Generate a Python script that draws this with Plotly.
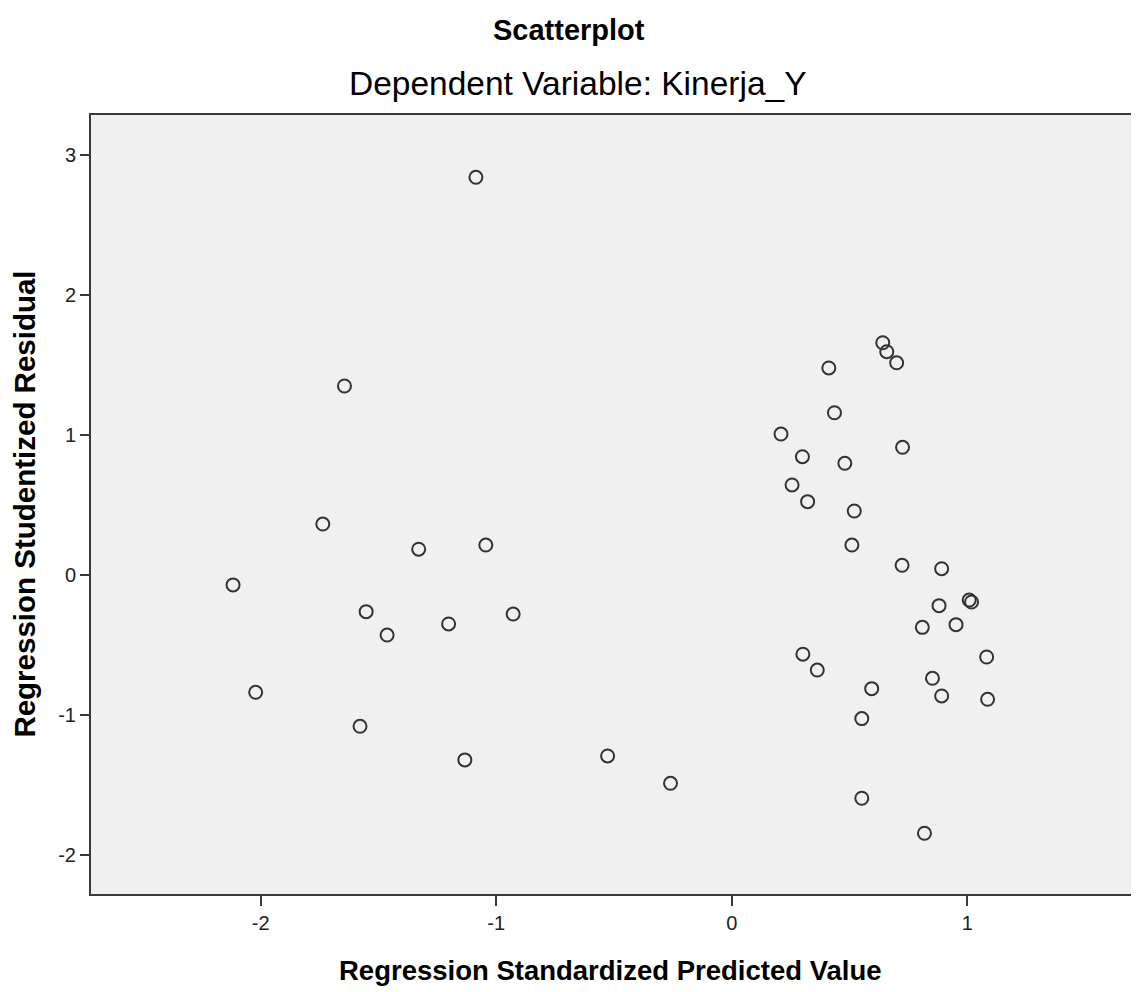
import plotly.graph_objects as go

# Regression Standardized Predicted Value (x) and Regression Studentized Residual (y)
pred_left = [-1.736, -1.329, -1.044, -2.117, -1.552, -1.463, -1.202, -0.928,
             -2.021, -1.578, -1.133, -1.086, -1.644, -0.527, -0.260]
resid_left = [0.364, 0.184, 0.214, -0.071, -0.262, -0.429, -0.350, -0.279,
              -0.838, -1.081, -1.321, 2.841, 1.350, -1.293, -1.488]

pred_right = [0.641, 0.658, 0.700, 0.412, 0.436, 0.209, 0.725, 0.300, 0.480,
              0.256, 0.322, 0.520, 0.510, 0.723, 0.891, 1.008, 1.018, 0.880,
              0.809, 0.952, 0.302, 0.363, 1.082, 0.852, 0.891, 0.594, 1.086,
              0.552, 0.552, 0.818]
resid_right = [1.659, 1.595, 1.516, 1.479, 1.159, 1.007, 0.912, 0.845, 0.798,
               0.643, 0.524, 0.457, 0.214, 0.069, 0.045, -0.179, -0.193, -0.219,
               -0.374, -0.355, -0.566, -0.679, -0.586, -0.738, -0.864, -0.812,
               -0.888, -1.026, -1.595, -1.845]

pred = pred_left + pred_right
resid = resid_left + resid_right

x_ticks = [-2, -1, 0, 1]
x_tick_labels = ["-2", "-1", "0", "1"]
y_ticks = [-2, -1, 0, 1, 2, 3]
y_tick_labels = ["-2", "-1", "0", "1", "2", "3"]

title_text = "Scatterplot"
subtitle_text = "Dependent Variable: Kinerja_Y"
x_title = "Regression Standardized Predicted Value"
y_title = "Regression Studentized Residual"

FONT = "Liberation Sans, Arial, sans-serif"

fig = go.Figure()
fig.add_trace(go.Scatter(
    x=pred, y=resid, mode="markers",
    marker=dict(symbol="circle-open", size=13, color="#333333",
                line=dict(width=2, color="#333333")),
    showlegend=False, hoverinfo="x+y",
))

axis_common = dict(
    showgrid=False, zeroline=False, showline=True, mirror=True,
    linecolor="#3a3a3a", linewidth=2, ticks="outside", tickwidth=2,
    tickcolor="#3a3a3a", tickfont=dict(family=FONT, size=20, color="#222222"),
)

fig.update_layout(
    width=1131, height=984,
    margin=dict(l=83, r=1, t=107, b=98),
    paper_bgcolor="white", plot_bgcolor="#f0f0f0",
    font=dict(family=FONT, color="#000000"),
    xaxis=dict(range=[-2.720, 1.716], tickvals=x_ticks, ticktext=x_tick_labels,
               ticklen=10, **axis_common),
    yaxis=dict(range=[-2.279, 3.286], tickvals=y_ticks, ticktext=y_tick_labels,
               ticklen=9, **axis_common),
    annotations=[
        dict(text="<b>" + title_text + "</b>", xref="paper", yref="paper",
             x=0.4575, y=1.109, xanchor="center", yanchor="middle",
             showarrow=False, font=dict(family=FONT, size=29, color="#000")),
        dict(text=subtitle_text, xref="paper", yref="paper",
             x=0.466, y=1.041, xanchor="center", yanchor="middle",
             showarrow=False, font=dict(family=FONT, size=33.5, color="#000")),
        dict(text="<b>" + x_title + "</b>", xref="paper", yref="paper",
             x=0.4967, y=-0.0976, xanchor="center", yanchor="middle",
             showarrow=False, font=dict(family=FONT, size=27.5, color="#000")),
        dict(text="<b>" + y_title + "</b>", xref="paper", yref="paper",
             x=-0.064, y=0.5, xanchor="center", yanchor="middle", textangle=-90,
             showarrow=False, font=dict(family=FONT, size=29.5, color="#000")),
    ],
)

fig.write_html("out.html")
